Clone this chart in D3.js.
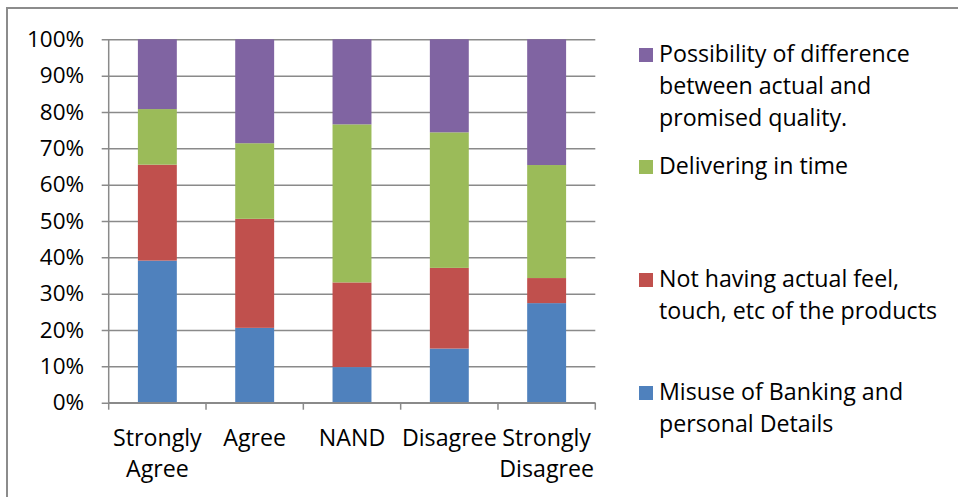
<!DOCTYPE html>
<html>
<head>
<meta charset="utf-8">
<script src="https://cdn.jsdelivr.net/npm/d3@7"></script>
<style>
  html, body { margin: 0; padding: 0; background: #fff; }
  svg { display: block; }
  text { font-family: "Open Sans", "Noto Sans", sans-serif; fill: #000; }
</style>
</head>
<body>
<svg id="chart" width="958" height="497"></svg>
<script>
// Response categories (x axis), each label split into display lines
const categories = ["Strongly Agree", "Agree", "NAND", "Disagree", "Strongly Disagree"];
const categoryLines = [["Strongly", "Agree"], ["Agree"], ["NAND"], ["Disagree"], ["Strongly", "Disagree"]];

// Share of respondents (%) per concern, stacked bottom to top
const seriesNames = [
  "Misuse of Banking and personal Details",
  "Not having actual feel, touch, etc of the products",
  "Delivering in time",
  "Possibility of difference between actual and promised quality."
];
const misuseBanking   = [39.1, 20.6,  9.8, 14.9, 27.4];
const noFeelTouch     = [26.4, 30.0, 23.3, 22.2,  6.9];
const deliveringTime  = [15.3, 20.8, 43.5, 37.3, 31.1];
const qualityGap      = [19.2, 28.6, 23.4, 25.6, 34.6];
const seriesValues = [misuseBanking, noFeelTouch, deliveringTime, qualityGap];
const seriesColors = ["#4F81BD", "#C0504D", "#9BBB59", "#8064A2"];

// Legend entries, top to bottom, with wrapped lines
const legendLines = [
  ["Possibility of difference", "between actual and", "promised quality."],
  ["Delivering in time"],
  ["Not having actual feel,", "touch, etc of the products"],
  ["Misuse of Banking and", "personal Details"]
];
const legendSeries = [3, 2, 1, 0];

const yTicks = [0, 10, 20, 30, 40, 50, 60, 70, 80, 90, 100];

const svg = d3.select("#chart");
const tickFontSize = 22.5;
const fontSize = 23.2;
const gridColor = "#8a8a8a";

// Chart area frame
svg.append("rect")
  .attr("x", 7).attr("y", 8)
  .attr("width", 1000).attr("height", 600)
  .attr("fill", "none").attr("stroke", "#8c8c8c").attr("stroke-width", 2);

const plot = { left: 108.7, right: 595.3, top: 39.3, bottom: 402.7 };

const x = d3.scaleBand()
  .domain(categories)
  .range([plot.left, plot.right])
  .paddingInner(0.6)
  .paddingOuter(0.3);

const y = d3.scaleLinear().domain([0, 100]).range([plot.bottom, plot.top]);

// Stack the series as percentages of each column total
const rows = categories.map((c, i) => {
  const r = { category: c };
  const total = d3.sum(seriesValues, s => s[i]);
  seriesNames.forEach((n, k) => { r[n] = seriesValues[k][i] / total * 100; });
  return r;
});
const stacked = d3.stack().keys(seriesNames)(rows);

// Horizontal gridlines with left tick marks and labels
const yAxis = d3.axisLeft(y)
  .tickValues(yTicks)
  .tickSize(-(plot.right - plot.left))
  .tickSizeOuter(0)
  .tickPadding(24.5)
  .tickFormat(d => d + "%");

const gy = svg.append("g")
  .attr("transform", `translate(${plot.left},0)`)
  .call(yAxis);
gy.select(".domain").remove();
gy.selectAll(".tick line")
  .attr("x1", -7)
  .attr("stroke", gridColor).attr("stroke-width", 1.5);
gy.selectAll(".tick text")
  .attr("font-size", tickFontSize)
  .attr("font-family", "'Open Sans', 'Noto Sans', sans-serif")
  .attr("fill", "#000");

// Vertical axis line
svg.append("line")
  .attr("x1", plot.left).attr("x2", plot.left)
  .attr("y1", plot.top).attr("y2", plot.bottom)
  .attr("stroke", gridColor).attr("stroke-width", 1.5);

// Bars
svg.append("g").selectAll("g")
  .data(stacked)
  .join("g")
  .attr("fill", (d, i) => seriesColors[i])
  .selectAll("rect")
  .data(d => d)
  .join("rect")
  .attr("x", d => x(d.data.category))
  .attr("width", x.bandwidth())
  .attr("y", d => y(d[1]))
  .attr("height", d => y(d[0]) - y(d[1]));

// Category axis: baseline and boundary ticks
const step = x.step();
const boundaries = d3.range(categories.length + 1).map(i => plot.left + i * step);
svg.append("line")
  .attr("x1", plot.left).attr("x2", plot.right)
  .attr("y1", plot.bottom).attr("y2", plot.bottom)
  .attr("stroke", gridColor).attr("stroke-width", 1.5);
svg.append("g").selectAll("line")
  .data(boundaries)
  .join("line")
  .attr("x1", d => d).attr("x2", d => d)
  .attr("y1", plot.bottom).attr("y2", plot.bottom + 7)
  .attr("stroke", gridColor).attr("stroke-width", 1.5);

// Category labels
const lab = svg.append("g").selectAll("text")
  .data(categories)
  .join("text")
  .attr("x", d => x(d) + x.bandwidth() / 2)
  .attr("y", 446)
  .attr("text-anchor", "middle")
  .attr("font-size", fontSize);
lab.selectAll("tspan")
  .data((d, i) => categoryLines[i])
  .join("tspan")
  .attr("x", function () { return d3.select(this.parentNode).attr("x"); })
  .attr("dy", (d, i) => i === 0 ? 0 : 31)
  .text(d => d);

// Legend
const legendBaselines = [62, 174, 287, 400];
const legend = svg.append("g");
legendLines.forEach((lines, i) => {
  const g = legend.append("g");
  g.append("rect")
    .attr("x", 639).attr("y", legendBaselines[i] - 14)
    .attr("width", 14).attr("height", 14)
    .attr("fill", seriesColors[legendSeries[i]]);
  const t = g.append("text")
    .attr("x", 659).attr("y", legendBaselines[i])
    .attr("font-size", fontSize);
  t.selectAll("tspan")
    .data(lines)
    .join("tspan")
    .attr("x", 659)
    .attr("dy", (d, j) => j === 0 ? 0 : 32)
    .text(d => d);
});
</script>
</body>
</html>
